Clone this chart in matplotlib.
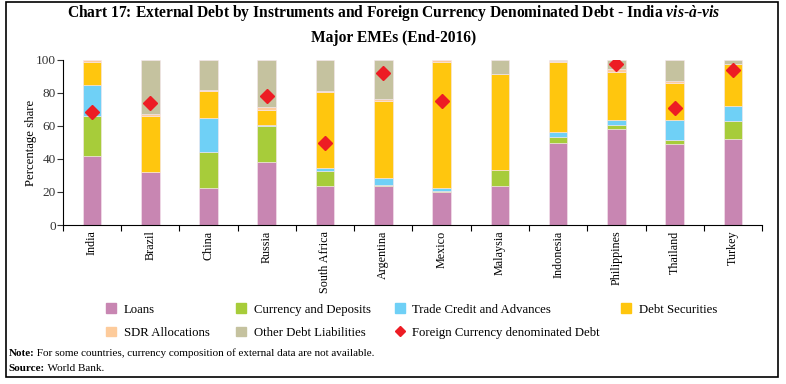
import matplotlib
matplotlib.use('Agg')
import matplotlib.pyplot as plt
import matplotlib.patches as mpatches
from matplotlib.lines import Line2D
import numpy as np

plt.rcParams['font.family'] = ['Liberation Serif', 'DejaVu Serif']
plt.rcParams['mathtext.fontset'] = 'custom'
plt.rcParams['mathtext.rm'] = 'Liberation Serif'
plt.rcParams['mathtext.it'] = 'Liberation Serif:italic:bold'
plt.rcParams['mathtext.bf'] = 'Liberation Serif:bold'

countries = ['India', 'Brazil', 'China', 'Russia', 'South Africa', 'Argentina',
             'Mexico', 'Malaysia', 'Indonesia', 'Philippines', 'Thailand', 'Turkey']

# shares in per cent
loans = [41.8, 32.3, 22.4, 38.4, 23.6, 23.8, 19.8, 23.8, 49.9, 58.2, 48.9, 52.3]
currency = [24.2, 0.0, 22.0, 21.6, 9.1, 0.3, 0.6, 9.7, 3.6, 2.2, 2.4, 10.9]
trade = [18.8, 0.0, 20.4, 0.5, 2.0, 4.2, 1.8, 0.1, 2.7, 3.0, 12.3, 8.9]
debt_sec = [13.8, 34.0, 16.4, 9.2, 46.1, 47.1, 76.4, 57.7, 42.4, 29.5, 22.7, 25.3]
sdr = [1.4, 0.7, 0.8, 1.6, 0.4, 1.2, 1.2, 0.2, 1.0, 1.4, 1.2, 0.2]
other = [0.0, 33.0, 18.0, 28.7, 18.8, 23.4, 0.2, 8.5, 0.4, 5.7, 12.5, 2.4]
fc_debt = [68.7, 74.1, np.nan, 78.4, 49.5, 91.9, 75.2, np.nan, np.nan, 97.6, 71.1, 94.1]

series = [('Loans', loans, '#C886B2'),
          ('Currency and Deposits', currency, '#A7CC3A'),
          ('Trade Credit and Advances', trade, '#6FD0F6'),
          ('Debt Securities', debt_sec, '#FFC60E'),
          ('SDR Allocations', sdr, '#FDCB9B'),
          ('Other Debt Liabilities', other, '#C5C29F')]

fig = plt.figure(figsize=(7.86, 3.84), dpi=100)
ax = fig.add_axes([0.080, 0.414, 0.8895, 0.430])

x = np.arange(len(countries))
bottom = np.zeros(len(countries))
handles = []
for name, vals, col in series:
    ax.bar(x, vals, 0.32, bottom=bottom, color=col, edgecolor='#F6E6EE', linewidth=0.4)
    bottom += np.array(vals)
    handles.append(mpatches.Patch(color=col, label=name))
ax.plot(x, fc_debt, linestyle='none', marker='D', color='#ED1C24', ms=7)
handles.append(Line2D([], [], linestyle='none', marker='D', color='#ED1C24', ms=5,
                      label='Foreign Currency denominated Debt'))

ax.set_xlim(-0.5, len(countries) - 0.5)
ax.set_ylim(0, 100)
ax.set_yticks([0, 20, 40, 60, 80, 100])
ax.set_xticks(np.arange(len(countries) + 1) - 0.5)
ax.set_xticklabels([])
ax.set_xticks(x, minor=True)
ax.set_xticklabels(countries, minor=True, rotation=90)
ax.tick_params(axis='x', which='minor', length=0, pad=4, labelsize=8.7)
ax.tick_params(axis='x', which='major', length=4, width=0.8)
ax.tick_params(axis='y', length=4, width=0.8, labelsize=9.5, pad=1, colors='#333333')
ax.spines['top'].set_visible(False)
ax.spines['right'].set_visible(False)
ax.set_ylabel('Percentage share', fontsize=9.2, labelpad=-1)

fig.text(0.501, 0.966, 'Chart 17: External Debt by Instruments and Foreign Currency Denominated Debt - '
         'India $\\it{vis}$-$\\it{à}$-$\\it{vis}$', ha='center', va='center',
         fontsize=11.2, fontweight='bold')
fig.text(0.501, 0.900, 'Major EMEs (End-2016)', ha='center', va='center',
         fontsize=11.2, fontweight='bold')

# legend laid out in columns
cols = [[0, 4], [1, 5], [2, 6], [3]]
col_x = [0.135, 0.300, 0.502, 0.790]
for cx, idx in zip(col_x, cols):
    fig.legend(handles=[handles[i] for i in idx], loc='upper left',
               bbox_to_anchor=(cx, 0.210), frameon=False, fontsize=9.2,
               handlelength=0.8, handleheight=0.8, handletextpad=0.6,
               labelspacing=0.85, borderpad=0, borderaxespad=0)

note = fig.text(0.011, 0.080, 'Note:', fontsize=8, fontweight='bold', va='center')
fig.text(0.011, 0.040, 'Source:', fontsize=8, fontweight='bold', va='center')
src = fig.texts[-1]
fig.add_artist(plt.Annotation(' For some countries, currency composition of external data are not available.',
                              xy=(1, 0), xycoords=note, va='bottom', fontsize=8))
fig.add_artist(plt.Annotation(' World Bank.', xy=(1, 0), xycoords=src, va='bottom', fontsize=8))

fig.add_artist(mpatches.Rectangle((0.007, 0.018), 0.983, 0.978, transform=fig.transFigure,
                                  fill=False, edgecolor='black', linewidth=1.2))

fig.savefig('out.png', dpi=100)
